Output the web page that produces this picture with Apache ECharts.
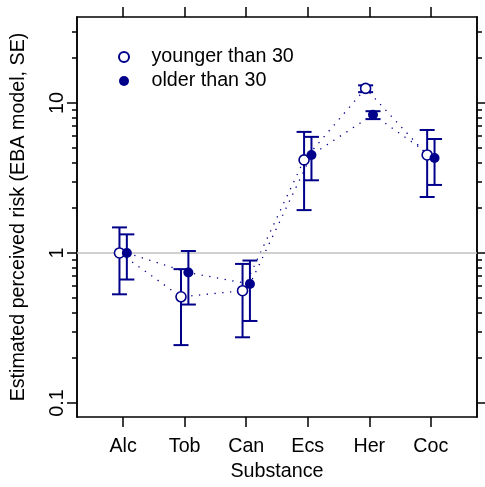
<!DOCTYPE html>
<html><head><meta charset="utf-8">
<script src="https://cdn.jsdelivr.net/npm/echarts@6/dist/echarts.min.js"></script>
<style>html,body{margin:0;padding:0;background:#fff}#c{width:485px;height:487px}</style>
</head><body><div id="c"></div>
<script>
const categories = ['Alc', 'Tob', 'Can', 'Ecs', 'Her', 'Coc'];
const seriesNames = ['younger than 30', 'older than 30'];
const youngEst = [1.0, 0.51, 0.56, 4.17, 12.5, 4.5];
const youngLo  = [0.53, 0.243, 0.274, 1.93, 11.8, 2.36];
const youngHi  = [1.48, 0.78, 0.845, 6.41, 13.1, 6.6];
const oldEst   = [1.0, 0.74, 0.62, 4.5, 8.35, 4.3];
const oldLo    = [0.665, 0.453, 0.352, 3.05, 7.8, 2.84];
const oldHi    = [1.33, 1.03, 0.89, 5.94, 8.81, 5.75];
const yMajorTicks = [0.1, 1, 10];
const yMinorTicks = [0.2, 0.3, 0.4, 0.5, 0.6, 0.7, 0.8, 0.9, 2, 3, 4, 5, 6, 7, 8, 9, 20, 30];
const yRange = [0.0806, 37.4];
const refValue = 1;

const COLOR = '#00008B';
const FONT = 'Liberation Sans, Arial, Helvetica, sans-serif';
const FS = 19.7;
const xTicks = categories.map((c, i) => i + 1);
const JIT = 0.06;
const lineSty = { color: '#000', width: 1.5 };

const youngPts = youngEst.map((v, i) => [xTicks[i] - JIT, v]);
const oldPts = oldEst.map((v, i) => [xTicks[i] + JIT, v]);
const youngErr = youngEst.map((v, i) => [xTicks[i] - JIT, youngLo[i], youngHi[i]]);
const oldErr = oldEst.map((v, i) => [xTicks[i] + JIT, oldLo[i], oldHi[i]]);

function errRender(params, api) {
  const x = api.value(0), lo = api.value(1), hi = api.value(2);
  const p1 = api.coord([x, hi]), p2 = api.coord([x, lo]);
  const w = 7.5;
  const style = { stroke: COLOR, lineWidth: 2, fill: null };
  return { type: 'group', children: [
    { type: 'line', shape: { x1: p1[0], y1: p1[1], x2: p2[0], y2: p2[1] }, style },
    { type: 'line', shape: { x1: p1[0] - w, y1: p1[1], x2: p1[0] + w, y2: p1[1] }, style },
    { type: 'line', shape: { x1: p2[0] - w, y1: p2[1], x2: p2[0] + w, y2: p2[1] }, style }
  ]};
}

function yAx(pos, ticks, len, labels, name) {
  const a = {
    type: 'log', logBase: 10, min: yRange[0], max: yRange[1], position: pos,
    axisLine: { show: true, lineStyle: lineSty },
    axisTick: { show: true, customValues: ticks, length: len, lineStyle: lineSty },
    axisLabel: labels ? { customValues: yMajorTicks, rotate: 90, fontSize: FS, fontFamily: FONT, color: '#000', margin: 9,
      formatter: v => String(v) } : { show: false },
    splitLine: { show: false }, minorTick: { show: false }
  };
  if (name) {
    a.name = name; a.nameLocation = 'middle'; a.nameGap = 48;
    a.nameTextStyle = { fontSize: FS, fontFamily: FONT, color: '#000' };
  }
  return a;
}

const chart = echarts.init(document.getElementById('c'));
chart.setOption({
  animation: false,
  backgroundColor: '#fff',
  grid: { left: 77, top: 17, width: 400, height: 400, containLabel: false, show: false },
  legend: {
    orient: 'vertical', left: 118, top: 47, padding: 0, itemGap: 4,
    itemWidth: 45, itemHeight: 10, data: seriesNames,
    textStyle: { fontSize: FS, fontFamily: FONT, color: '#000' }
  },
  xAxis: [
    { type: 'value', min: 0.25, max: 6.75, position: 'bottom',
      axisLine: { show: true, lineStyle: lineSty },
      axisTick: { show: true, customValues: xTicks, length: 10, lineStyle: lineSty },
      axisLabel: { customValues: xTicks, formatter: v => categories[Math.round(v) - 1], fontSize: FS, fontFamily: FONT, color: '#000', margin: 20 },
      splitLine: { show: false },
      name: 'Substance', nameLocation: 'middle', nameGap: 40,
      nameTextStyle: { fontSize: FS, fontFamily: FONT, color: '#000' } },
    { type: 'value', min: 0.25, max: 6.75, position: 'top',
      axisLine: { show: true, lineStyle: lineSty },
      axisTick: { show: true, customValues: xTicks, length: 10, lineStyle: lineSty },
      axisLabel: { show: false }, splitLine: { show: false } }
  ],
  yAxis: [
    yAx('left', yMajorTicks, 10, true, 'Estimated perceived risk (EBA model, SE)'),
    yAx('left', yMinorTicks, 5, false),
    yAx('right', yMajorTicks, 10, false),
    yAx('right', yMinorTicks, 5, false)
  ],
  series: [
    { type: 'line', name: 'ref', data: [], xAxisIndex: 0, yAxisIndex: 0, silent: true,
      markLine: { silent: true, symbol: 'none', label: { show: false },
        lineStyle: { color: '#c0c0c0', width: 1.5, type: 'solid' }, data: [{ yAxis: refValue }] } },
    { type: 'line', name: 'yline', data: youngPts, showSymbol: false, xAxisIndex: 0, yAxisIndex: 0,
      lineStyle: { color: COLOR, width: 1.3, type: [1.3, 6.5] } },
    { type: 'line', name: 'oline', data: oldPts, showSymbol: false, xAxisIndex: 0, yAxisIndex: 0,
      lineStyle: { color: COLOR, width: 1.3, type: [1.3, 6.5] } },
    { type: 'custom', name: 'yerr', data: youngErr, renderItem: errRender, encode: { x: 0, y: [1, 2] } },
    { type: 'scatter', name: seriesNames[0], data: youngPts, symbol: 'circle', symbolSize: 10,
      itemStyle: { color: '#fff', borderColor: COLOR, borderWidth: 1.6, opacity: 1 }, z: 5 },
    { type: 'custom', name: 'oerr', data: oldErr, renderItem: errRender, encode: { x: 0, y: [1, 2] }, z: 6 },
    { type: 'scatter', name: seriesNames[1], data: oldPts, symbol: 'circle', symbolSize: 10,
      itemStyle: { color: COLOR, borderColor: COLOR, borderWidth: 0, opacity: 1 }, z: 7 }
  ]
});
</script></body></html>
